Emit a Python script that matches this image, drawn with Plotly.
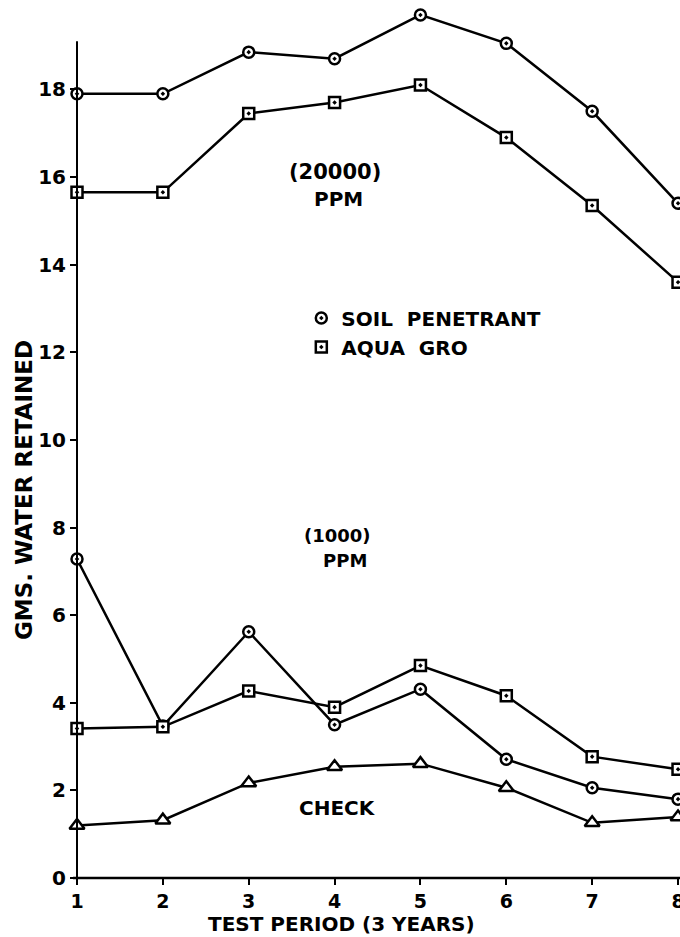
import plotly.graph_objects as go

# ---- data ----
test_period = [1, 2, 3, 4, 5, 6, 7, 8]
soil_pen_20000 = [17.9, 17.9, 18.85, 18.7, 19.7, 19.05, 17.5, 15.4]
aqua_gro_20000 = [15.65, 15.65, 17.45, 17.7, 18.1, 16.9, 15.35, 13.6]
soil_pen_1000 = [7.28, 3.47, 5.62, 3.5, 4.31, 2.71, 2.06, 1.8]
aqua_gro_1000 = [3.41, 3.45, 4.27, 3.9, 4.85, 4.16, 2.77, 2.48]
check = [1.2, 1.32, 2.17, 2.54, 2.61, 2.06, 1.26, 1.39]

y_ticks = [0, 2, 4, 6, 8, 10, 12, 14, 16, 18]
x_ticks = [1, 2, 3, 4, 5, 6, 7, 8]

FONT = "DejaVu Sans"
BLACK = "#000000"

X_RANGE = [1, 8.023]
Y_RANGE = [0, 20.04]

circle = dict(symbol="circle-dot", size=11, color="white", line=dict(color=BLACK, width=2.5))
square = dict(symbol="square-dot", size=11, color="white", line=dict(color=BLACK, width=2.5))
triangle = dict(symbol="triangle-up", size=13, color="white", line=dict(color=BLACK, width=2.5))
line = dict(color=BLACK, width=2.5)

fig = go.Figure()
series = [
    (soil_pen_20000, circle),
    (aqua_gro_20000, square),
    (soil_pen_1000, circle),
    (aqua_gro_1000, square),
    (check, triangle),
]
for ys, mk in series:
    fig.add_trace(go.Scatter(x=test_period, y=ys, mode="lines+markers",
                             line=line, marker=mk, showlegend=False, cliponaxis=False))

# legend entries (marker only)
fig.add_trace(go.Scatter(x=[None], y=[None], mode="markers", marker=circle, name="SOIL  PENETRANT"))
fig.add_trace(go.Scatter(x=[None], y=[None], mode="markers", marker=square, name="AQUA  GRO"))

def ann(text, x, y, size, xref="x", yref="y", angle=0):
    fig.add_annotation(text=text, x=x, y=y, xref=xref, yref=yref, showarrow=False,
                       textangle=angle, xanchor="center", yanchor="middle",
                       font=dict(family=FONT, size=size, color=BLACK, weight="bold"))

ann("(20000)", 4.005, 16.11, 21)
ann("PPM", 4.04, 15.5, 20)
ann("(1000)", 4.03, 7.82, 18)
ann("PPM", 4.12, 7.25, 18)
ann("CHECK", 4.03, 1.59, 20)
ann("GMS. WATER RETAINED", -0.088, 0.4417, 23, xref="paper", yref="paper", angle=-90)
ann("TEST PERIOD (3 YEARS)", 0.438, -0.0527, 20, xref="paper", yref="paper")

# axis lines
fig.add_shape(type="line", xref="paper", yref="paper", x0=0, x1=0, y0=0, y1=19.1 / Y_RANGE[1],
              line=dict(color=BLACK, width=2))
fig.add_shape(type="line", xref="paper", yref="paper", x0=-4 / 603, x1=1, y0=0, y1=0,
              line=dict(color=BLACK, width=2.5))

fig.update_layout(
    width=680, height=937,
    margin=dict(l=77, r=0, t=0, b=59, autoexpand=False),
    paper_bgcolor="white", plot_bgcolor="white",
    font=dict(family=FONT, color=BLACK, weight="bold"),
    showlegend=True,
    legend=dict(x=0.372, y=0.66, xanchor="left", yanchor="top",
                bgcolor="rgba(0,0,0,0)", font=dict(family=FONT, size=20, color=BLACK, weight="bold"),
                tracegroupgap=0, itemsizing="trace"),
    xaxis=dict(range=X_RANGE, tickvals=x_ticks, ticktext=[str(v) for v in x_ticks],
               showgrid=False, zeroline=False, showline=False, ticklabeloverflow="allow",
               automargin=False,
               ticks="outside", ticklen=6, tickwidth=2, tickcolor=BLACK,
               tickfont=dict(family=FONT, size=19, color=BLACK, weight="bold")),
    yaxis=dict(range=Y_RANGE, tickvals=y_ticks, ticktext=[str(v) for v in y_ticks],
               showgrid=False, zeroline=False, showline=False, automargin=False,
               ticks="outside", ticklen=6, tickwidth=2, tickcolor=BLACK,
               tickfont=dict(family=FONT, size=20, color=BLACK, weight="bold")),
)

fig.write_html("out.html")
